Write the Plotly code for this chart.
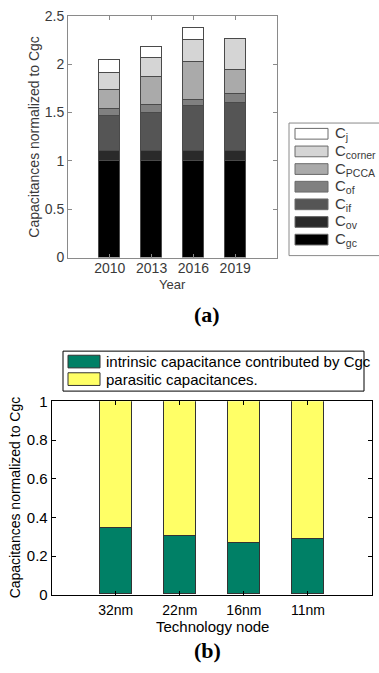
import plotly.graph_objects as go

W, H = 379, 673

# ---------------- data (a) ----------------
years = ["2010", "2013", "2016", "2019"]
cap_names = ["C<sub>gc</sub>", "C<sub>ov</sub>", "C<sub>if</sub>", "C<sub>of</sub>",
             "C<sub>PCCA</sub>", "C<sub>corner</sub>", "C<sub>j</sub>"]
c_gc = [1.0, 1.0, 1.0, 1.0]
c_ov = [0.10, 0.10, 0.10, 0.10]
c_if = [0.37, 0.40, 0.466, 0.50]
c_of = [0.065, 0.08, 0.07, 0.09]
c_pcca = [0.195, 0.285, 0.39, 0.25]
c_corner = [0.185, 0.198, 0.225, 0.32]
c_j = [0.125, 0.117, 0.125, 0.0]
cap_colors = ["#000000", "#2a2a2a", "#555555", "#808080", "#aaaaaa", "#d5d5d5", "#ffffff"]

# ---------------- data (b) ----------------
nodes = ["32nm", "22nm", "16nm", "11nm"]
intrinsic = [0.343, 0.303, 0.266, 0.288]
parasitic = [0.657, 0.697, 0.734, 0.712]
b_names = ["intrinsic capacitance contributed by Cgc", "parasitic capacitances."]
b_colors = ["#008066", "#ffff66"]


def px(x):
    return x / W


def py(y):
    return 1 - y / H


fig = go.Figure()

series_a = [c_gc, c_ov, c_if, c_of, c_pcca, c_corner, c_j]
for name, vals, col in zip(cap_names, series_a, cap_colors):
    fig.add_trace(go.Bar(x=years, y=vals, name=name, width=0.5,
                         marker=dict(color=col, line=dict(color="#4a4a4a", width=1)),
                         xaxis="x", yaxis="y", showlegend=False))

for name, vals, col in zip(b_names, [intrinsic, parasitic], b_colors):
    fig.add_trace(go.Bar(x=nodes, y=vals, name=name, width=0.5,
                         marker=dict(color=col, line=dict(color="#333333", width=1)),
                         xaxis="x2", yaxis="y2", showlegend=False))

font_a = dict(family="Liberation Sans, Arial", size=14, color="#3a3a3a")
font_b = dict(family="Liberation Sans, Arial", size=15, color="#000000")
font_bt = dict(family="Liberation Sans, Arial", size=14, color="#000000")

axis_common = dict(showgrid=False, zeroline=False, showline=True, mirror="ticks",
                   ticks="inside", ticklen=4)

fig.update_layout(
    width=W, height=H, margin=dict(l=0, r=0, t=0, b=0),
    paper_bgcolor="white", plot_bgcolor="white",
    barmode="stack", bargap=0,
    xaxis=dict(domain=[px(68), px(277)], anchor="y", type="category",
               range=[-1, 4], linecolor="#8a8a8a", tickcolor="#8a8a8a",
               tickfont=font_a, ticklabelstandoff=-2, **axis_common),
    yaxis=dict(domain=[py(255), py(7)], anchor="x", range=[0, 2.5], dtick=0.5,
               linecolor="#8a8a8a", tickcolor="#8a8a8a", tickfont=font_a,
               **axis_common),
    xaxis2=dict(domain=[px(51.7), px(372)], anchor="y2", type="category",
                range=[-1, 4], linecolor="#000000", tickcolor="#000000",
                tickfont=font_bt, ticklabelstandoff=2, **axis_common),
    yaxis2=dict(domain=[py(601), py(402.5)], anchor="x2", range=[0, 1], dtick=0.2,
                linecolor="#000000", tickcolor="#000000", tickfont=font_b,
                **axis_common),
)

ann = []
# axis titles (a)
ann.append(dict(text="Year", x=px(172.5), y=py(283), font=dict(font_a, size=13)))
ann.append(dict(text="Capacitances normalized to Cgc", x=px(34), y=py(131),
                textangle=-90, font=font_a))
# axis titles (b)
ann.append(dict(text="Technology node", x=px(212), y=py(633), font=font_b))
ann.append(dict(text="Capacitances normalized to Cgc", x=px(15), y=py(501),
                textangle=-90, font=dict(family="Liberation Sans, Arial", size=14, color="#000")))
# panel labels
ann.append(dict(text="<b>(a)</b>", x=px(207), y=py(313),
                font=dict(family="Liberation Serif, Times New Roman", size=22, color="#000")))
ann.append(dict(text="<b>(b)</b>", x=px(207), y=py(658),
                font=dict(family="Liberation Serif, Times New Roman", size=22, color="#000")))

shapes = []
# legend (a)
shapes.append(dict(type="rect", xref="paper", yref="paper", x0=px(289), x1=px(382),
                   y0=py(253), y1=py(117), line=dict(color="#8a8a8a", width=1),
                   fillcolor="white"))
leg_order = list(range(len(cap_names)))[::-1]
for i, k in enumerate(leg_order):
    cy = 128 + i * 18.1
    shapes.append(dict(type="rect", xref="paper", yref="paper", x0=px(295), x1=px(328),
                       y0=py(cy + 5.5), y1=py(cy - 5.5), fillcolor=cap_colors[k],
                       line=dict(color="#6a6a6a", width=1)))
    ann.append(dict(text=cap_names[k], x=px(333), y=py(cy), xanchor="left",
                    font=dict(family="Liberation Sans, Arial", size=15, color="#3a3a3a")))
# legend (b)
shapes.append(dict(type="rect", xref="paper", yref="paper", x0=px(63), x1=px(364),
                   y0=py(392), y1=py(351), line=dict(color="#000", width=1),
                   fillcolor="white"))
for i, (name, col) in enumerate(zip(b_names, b_colors)):
    cy = 361.7 + i * 18
    shapes.append(dict(type="rect", xref="paper", yref="paper", x0=px(68), x1=px(100),
                       y0=py(cy + 6.5), y1=py(cy - 6.5), fillcolor=col,
                       line=dict(color="#333", width=1)))
    ann.append(dict(text=name, x=px(104), y=py(cy), xanchor="left", font=font_b))

for a in ann:
    a.setdefault("xref", "paper")
    a.setdefault("yref", "paper")
    a.setdefault("showarrow", False)
    a.setdefault("xanchor", "center")
    a.setdefault("yanchor", "middle")

fig.update_layout(annotations=ann, shapes=shapes)
fig.write_html("out.html")
